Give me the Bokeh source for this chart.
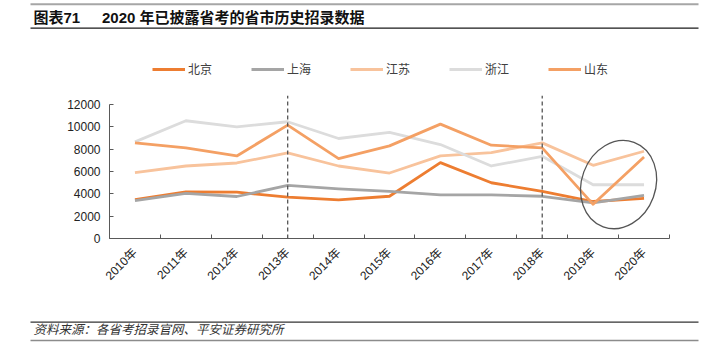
import math
from bokeh.plotting import figure
from bokeh.layouts import column
from bokeh.models import (Range1d, FixedTicker, CustomJSTickFormatter, Legend, LegendItem)
from bokeh.core.properties import value
from bokeh.embed import file_html
from bokeh.resources import INLINE

# ---------------- data ----------------
years = ["2010年", "2011年", "2012年", "2013年", "2014年", "2015年",
         "2016年", "2017年", "2018年", "2019年", "2020年"]
beijing = [3490, 4180, 4150, 3700, 3460, 3780, 6790, 4990, 4210, 3310, 3600]
shanghai = [3400, 4030, 3760, 4750, 4450, 4210, 3910, 3910, 3780, 3190, 3850]
jiangsu = [5890, 6490, 6760, 7660, 6490, 5860, 7390, 7690, 8560, 6550, 7810]
zhejiang = [8650, 10540, 10000, 10450, 8950, 9490, 8410, 6490, 7360, 4810, 4810]
shandong = [8560, 8110, 7390, 10150, 7150, 8290, 10240, 8350, 8110, 3060, 7300]
series_names = ["北京", "上海", "江苏", "浙江", "山东"]
divider_years = ["2013年", "2018年"]
y_ticks = [0, 2000, 4000, 6000, 8000, 10000, 12000]

title_left = "图表71"
title_right = "2020 年已披露省考的省市历史招录数据"
source_text = "资料来源：各省考招录官网、平安证券研究所"

FONT = "Liberation Sans, Noto Sans CJK SC"
W = 705
HDR_H = 90
MAIN_H = 228
FTR_H = 32
colors = ["#ED7D31", "#A5A5A5", "#F8C39C", "#DCDCDC", "#F4A064"]
data = [beijing, shanghai, jiangsu, zhejiang, shandong]

# ---------------- header (title + legend) ----------------
hdr = figure(width=W, height=HDR_H, x_range=Range1d(0, W), y_range=Range1d(HDR_H, 0),
             x_axis_type=None, y_axis_type=None, output_backend="svg",
             toolbar_location=None, min_border=0, outline_line_color=None,
             frame_align=False)
hdr.segment(x0=[30], y0=[3.7], x1=[698], y1=[3.7], line_color="#a6a6a6", line_width=2)
hdr.segment(x0=[30], y0=[27.7], x1=[698], y1=[27.7], line_color="#1a1a1a", line_width=1.2)
hdr.text(x=[33], y=[16.5], text=[title_left], text_font=value(FONT),
         text_font_size="15px", text_font_style="bold", text_baseline="middle",
         text_color="#111111")
hdr.text(x=[101.5], y=[16.5], text=[title_right], text_font=value(FONT),
         text_font_size="15px", text_font_style="bold", text_baseline="middle",
         text_color="#111111")

# legend sample renderers: placed outside the visible header area, only their style is shown
leg_renderers = [hdr.line(x=[-50, -40], y=[-50, -50], line_color=c, line_width=2.8)
                 for c in colors]
legend = Legend(items=[LegendItem(label=nm, renderers=[r]) for nm, r in zip(series_names, leg_renderers)],
                orientation="horizontal", location=(152, 13), glyph_width=33,
                glyph_height=14, label_height=14, label_standoff=3, spacing=39,
                padding=0, margin=0, border_line_color=None,
                background_fill_alpha=0, label_text_font=FONT,
                label_text_font_size="12px", label_text_color="#404040")
hdr.add_layout(legend, "center")

# ---------------- main chart ----------------
n = len(years)
xs = [i + 0.5 for i in range(n)]
p = figure(width=W, height=MAIN_H, x_range=Range1d(0, n), y_range=Range1d(0, 12800),
           output_backend="svg", toolbar_location=None,
           min_border_left=109, min_border_right=36, min_border_top=5,
           min_border_bottom=80, outline_line_color=None, frame_align=False)
p.xgrid.grid_line_color = None
p.ygrid.grid_line_color = None

for name, vals, c in zip(series_names, data, colors):
    p.line(xs, vals, line_color=c, line_width=2.8, line_join="round")

# dashed dividers
for d in divider_years:
    xi = years.index(d) + 0.5
    p.segment(x0=[xi], y0=[0], x1=[xi], y1=[12800], line_color="#555555",
              line_width=1.3, line_dash="4 3")

# highlight ellipse around last two years
last_vals = [v for s in data for v in s[-2:]]
cx = (xs[-2] + xs[-1]) / 2
cy = sum(last_vals) / len(last_vals)
p.ellipse(x=[cx], y=[cy], width=74, height=90, width_units="screen",
          height_units="screen", angle=-0.35, fill_color=None,
          line_color="#555555", line_width=1.3)

# axes
xa = p.xaxis[0]
xa.ticker = FixedTicker(ticks=xs, minor_ticks=list(range(n + 1)))
xa.formatter = CustomJSTickFormatter(args=dict(labels=years),
                                     code="return labels[Math.round(tick - 0.5)];")
xa.major_tick_in = 0
xa.major_tick_out = 0
xa.minor_tick_in = 4
xa.minor_tick_out = 0
xa.minor_tick_line_color = "#595959"
xa.axis_line_color = "#595959"
xa.major_label_orientation = math.pi / 4
xa.major_label_standoff = 12
xa.major_label_text_font = FONT
xa.major_label_text_font_size = "12px"
xa.major_label_text_color = "#222222"

ya = p.yaxis[0]
ya.ticker = FixedTicker(ticks=y_ticks)
ya.bounds = (0, 12000)
ya.major_tick_in = 4
ya.major_tick_out = 0
ya.minor_tick_in = 0
ya.minor_tick_out = 0
ya.major_tick_line_color = "#595959"
ya.axis_line_color = "#595959"
ya.major_label_standoff = 9
ya.major_label_text_font = FONT
ya.major_label_text_font_size = "12px"
ya.major_label_text_color = "#222222"

# ---------------- footer ----------------
ftr = figure(width=W, height=FTR_H, x_range=Range1d(0, W), y_range=Range1d(FTR_H, 0),
             x_axis_type=None, y_axis_type=None, output_backend="svg",
             toolbar_location=None, min_border=0, outline_line_color=None,
             frame_align=False)
ftr.segment(x0=[30], y0=[3.7], x1=[698], y1=[3.7], line_color="#333333", line_width=1.2)
ftr.segment(x0=[30], y0=[22], x1=[698], y1=[22], line_color="#8c8c8c", line_width=1.6)
ftr.text(x=[33], y=[11.5], text=[source_text], text_font=value(FONT),
         text_font_size="12.5px", text_font_style="italic", text_baseline="middle",
         text_color="#333333")

layout = column(hdr, p, ftr, spacing=0)
open("out.html", "w").write(file_html(layout, INLINE))
